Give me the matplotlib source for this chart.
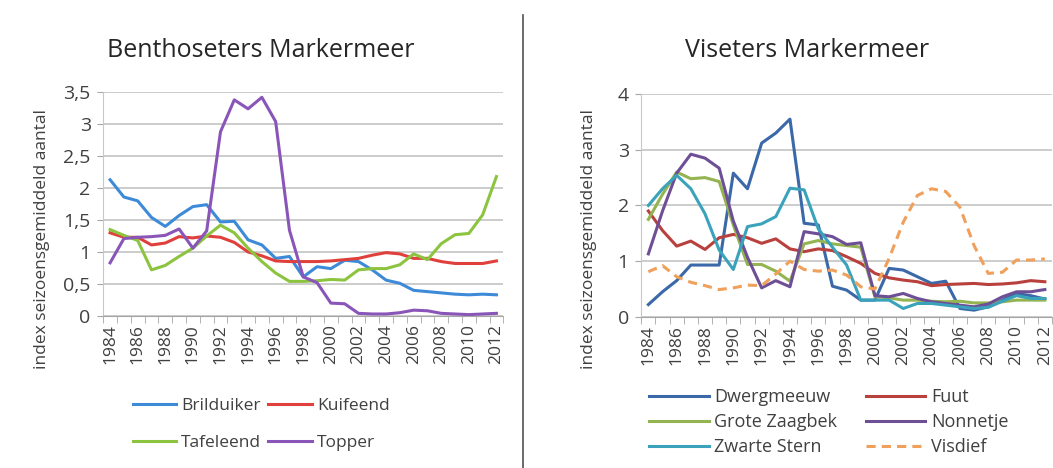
import matplotlib.pyplot as plt
from matplotlib.lines import Line2D

jaren = list(range(1984, 2013))
jaar_labels = [str(j) for j in range(1984, 2013, 2)]

# Benthoseters Markermeer
brilduiker = [2.13, 1.86, 1.80, 1.54, 1.40, 1.57, 1.71, 1.74, 1.47, 1.48, 1.19, 1.11, 0.90, 0.93, 0.61, 0.77,
              0.74, 0.87, 0.85, 0.72, 0.56, 0.51, 0.40, 0.38, 0.36, 0.34, 0.33, 0.34, 0.33]
kuifeend = [1.30, 1.23, 1.23, 1.11, 1.14, 1.24, 1.22, 1.25, 1.23, 1.15, 1.00, 0.94, 0.86, 0.85, 0.85, 0.85,
            0.86, 0.88, 0.90, 0.95, 0.99, 0.97, 0.90, 0.90, 0.85, 0.82, 0.82, 0.82, 0.86]
tafeleend = [1.35, 1.26, 1.18, 0.72, 0.79, 0.93, 1.06, 1.25, 1.42, 1.30, 1.06, 0.85, 0.67, 0.54, 0.54, 0.55,
             0.57, 0.56, 0.72, 0.74, 0.74, 0.80, 0.97, 0.88, 1.13, 1.27, 1.29, 1.58, 2.18]
topper = [0.83, 1.21, 1.23, 1.24, 1.26, 1.36, 1.06, 1.33, 2.88, 3.38, 3.24, 3.42, 3.04, 1.34, 0.61, 0.52,
          0.20, 0.19, 0.04, 0.03, 0.03, 0.05, 0.09, 0.08, 0.04, 0.03, 0.02, 0.03, 0.04]

# Viseters Markermeer
dwergmeeuw = [0.22, 0.45, 0.65, 0.93, 0.93, 0.93, 2.58, 2.30, 3.12, 3.30, 3.55, 1.68, 1.65, 0.55, 0.48, 0.30,
              0.30, 0.87, 0.84, 0.72, 0.60, 0.64, 0.15, 0.12, 0.18, 0.30, 0.42, 0.38, 0.32]
fuut = [1.90, 1.55, 1.27, 1.36, 1.21, 1.42, 1.48, 1.42, 1.32, 1.40, 1.22, 1.17, 1.22, 1.19, 1.08, 0.96,
        0.78, 0.70, 0.66, 0.63, 0.56, 0.58, 0.59, 0.60, 0.58, 0.59, 0.61, 0.65, 0.63]
grote_zaagbek = [1.75, 2.20, 2.60, 2.48, 2.50, 2.43, 1.65, 0.94, 0.94, 0.82, 0.64, 1.31, 1.37, 1.31, 1.28, 1.25,
                 0.36, 0.34, 0.30, 0.30, 0.28, 0.27, 0.28, 0.25, 0.25, 0.27, 0.30, 0.30, 0.30]
nonnetje = [1.13, 1.90, 2.58, 2.92, 2.85, 2.67, 1.72, 1.07, 0.52, 0.65, 0.54, 1.53, 1.49, 1.44, 1.30, 1.33,
            0.38, 0.36, 0.42, 0.33, 0.27, 0.24, 0.21, 0.18, 0.23, 0.36, 0.45, 0.45, 0.49]
zwarte_stern = [2.00, 2.30, 2.54, 2.30, 1.85, 1.20, 0.85, 1.62, 1.67, 1.80, 2.31, 2.28, 1.58, 1.25, 0.93, 0.30,
                0.30, 0.30, 0.15, 0.24, 0.24, 0.21, 0.18, 0.15, 0.17, 0.28, 0.38, 0.33, 0.33]
visdief = [0.81, 0.92, 0.72, 0.62, 0.56, 0.49, 0.52, 0.57, 0.56, 0.77, 1.00, 0.85, 0.82, 0.84, 0.75, 0.54,
           0.50, 1.05, 1.70, 2.18, 2.30, 2.25, 1.97, 1.28, 0.78, 0.80, 1.02, 1.02, 1.04]

plt.rcParams['font.family'] = ['Open Sans', 'DejaVu Sans']
tekst = '#404040'
grid = '#c8c8c8'

fig = plt.figure(figsize=(10.53, 4.68), dpi=100)


def opmaak(ax, ymax, ystap, komma):
    ax.set_xlim(1983.5, 2012.5)
    ax.set_ylim(0, ymax)
    yt = [i * ystap for i in range(int(round(ymax / ystap)) + 1)]
    ax.set_yticks(yt)
    if komma:
        ax.set_yticklabels([('%g' % v).replace('.', ',') for v in yt])
    ax.set_xticks(list(range(1984, 2013, 2)))
    ax.set_xticklabels(jaar_labels, rotation=90)
    ax.set_xticks([j + 0.5 for j in range(1983, 2013)], minor=True)
    ax.tick_params(axis='x', which='major', length=0, pad=6, labelsize=12.5, labelcolor=tekst)
    ax.tick_params(axis='x', which='minor', length=5, color='#a6a6a6')
    ax.tick_params(axis='y', length=4, color='#a6a6a6', labelsize=14, labelcolor=tekst, pad=5)
    ax.grid(axis='y', color=grid, linewidth=1.3)
    ax.set_axisbelow(True)
    for s in ['top', 'right']:
        ax.spines[s].set_visible(False)
    ax.spines['left'].set_color('#c8c8c8')
    ax.spines['bottom'].set_color('#a6a6a6')


def legenda(ax, volgorde, **kw):
    h, l = ax.get_legend_handles_labels()
    ax.legend([h[i] for i in volgorde], [l[i] for i in volgorde], loc='center',
              bbox_transform=fig.transFigure, ncol=2, frameon=False,
              handletextpad=0.3, labelcolor=tekst, **kw)


# links
ax1 = fig.add_axes([0.098, 0.325, 0.380, 0.478])
ax1.plot(jaren, brilduiker, color='#3d8bd8', lw=2.2, label='Brilduiker')
ax1.plot(jaren, kuifeend, color='#e0403c', lw=2.2, label='Kuifeend')
ax1.plot(jaren, tafeleend, color='#8cc43f', lw=2.2, label='Tafeleend')
ax1.plot(jaren, topper, color='#8a55b8', lw=2.2, label='Topper')
opmaak(ax1, 3.5, 0.5, True)
fig.text(0.248, 0.893, 'Benthoseters Markermeer', ha='center', va='center', fontsize=18, color='#262626')
fig.text(0.040, 0.49, 'index seizoensgemiddeld aantal', rotation=90, ha='center', va='center',
         fontsize=12.5, color=tekst)
legenda(ax1, [0, 2, 1, 3], bbox_to_anchor=(0.248, 0.094), fontsize=12.5, handlelength=2.5,
        columnspacing=0.4, labelspacing=1.2)

# rechts
ax2 = fig.add_axes([0.609, 0.323, 0.390, 0.476])
ax2.plot(jaren, dwergmeeuw, color='#3a68a8', lw=2.2, label='Dwergmeeuw')
ax2.plot(jaren, fuut, color='#b8403d', lw=2.2, label='Fuut')
ax2.plot(jaren, grote_zaagbek, color='#93b450', lw=2.2, label='Grote Zaagbek')
ax2.plot(jaren, nonnetje, color='#6e4f96', lw=2.2, label='Nonnetje')
ax2.plot(jaren, zwarte_stern, color='#3aa3bb', lw=2.2, label='Zwarte Stern')
ax2.plot(jaren, visdief, color='#f0a05a', lw=2.2, ls=(0, (3, 2)), label='Visdief')
opmaak(ax2, 4, 1, False)
fig.text(0.766, 0.893, 'Viseters Markermeer', ha='center', va='center', fontsize=18, color='#262626')
fig.text(0.559, 0.49, 'index seizoensgemiddeld aantal', rotation=90, ha='center', va='center',
         fontsize=12.5, color=tekst)
legenda(ax2, [0, 2, 4, 1, 3, 5], bbox_to_anchor=(0.787, 0.098), fontsize=13, handlelength=3.3,
        columnspacing=1.6, labelspacing=0.4)

fig.add_artist(Line2D([0.497, 0.497], [0.0, 0.968], transform=fig.transFigure, color='#505050', lw=1.2))

fig.savefig('out.png', dpi=100)
